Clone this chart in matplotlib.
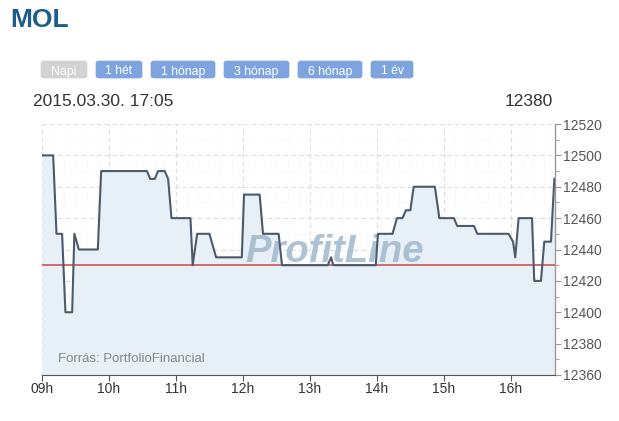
import matplotlib
matplotlib.use("Agg")
import matplotlib.pyplot as plt
from matplotlib.patches import FancyBboxPatch
from matplotlib.ticker import MultipleLocator
import numpy as np

plt.rcParams['font.family'] = ['Liberation Sans', 'DejaVu Sans']

# intraday quotes
times = ["09:00", "09:10", "09:13", "09:18", "09:21", "09:27", "09:29", "09:33",
         "09:50", "09:53", "10:34", "10:37", "10:41", "10:44", "10:50", "10:53",
         "10:56", "11:13", "11:15", "11:19", "11:30", "11:36", "11:59", "12:01",
         "12:15", "12:18", "12:32", "12:35", "13:16", "13:19", "13:21", "13:59",
         "14:01", "14:14", "14:18", "14:23", "14:26", "14:30", "14:33", "14:52",
         "14:56", "15:09", "15:12", "15:27", "15:30", "15:58", "16:02", "16:04",
         "16:07", "16:19", "16:21", "16:27", "16:30", "16:36", "16:39"]
prices = [12500, 12500, 12450, 12450, 12400, 12400, 12450, 12440,
          12440, 12490, 12490, 12485, 12485, 12490, 12490, 12485,
          12460, 12460, 12430, 12450, 12450, 12435, 12435, 12475,
          12475, 12450, 12450, 12430, 12430, 12435, 12430, 12430,
          12450, 12450, 12460, 12460, 12465, 12465, 12480, 12480,
          12460, 12460, 12455, 12455, 12450, 12450, 12445, 12435,
          12460, 12460, 12420, 12420, 12445, 12445, 12485]
prev_close = 12430

hour_ticks = [9, 10, 11, 12, 13, 14, 15, 16]
hour_labels = ["09h", "10h", "11h", "12h", "13h", "14h", "15h", "16h"]
buttons = ["Napi", "1 hét", "1 hónap", "3 hónap", "6 hónap", "1 év"]

ticker = "MOL"
stamp = "2015.03.30. 17:05"
header_value = "12380"
source = "Forrás: PortfolioFinancial"

hours = np.array([int(t[:2]) + int(t[3:]) / 60 for t in times])

W, H = 619, 421
fig = plt.figure(figsize=(W / 100, H / 100), dpi=100)
fig.patch.set_facecolor("white")

# header
fig.text(10 / W, 1 - 20 / H, ticker, fontsize=19, fontweight="bold",
         color="#1b5e8c", va="center", ha="left")

btn_x = [(41, 87), (96, 142), (151, 215), (224, 289), (298, 362), (371, 413)]
for label, (x0, x1) in zip(buttons, btn_x):
    face = "#d2d2d2" if label == "Napi" else "#7ea4df"
    box = FancyBboxPatch((x0 / W, 1 - 78 / H), (x1 - x0) / W, 17 / H,
                         boxstyle="round,pad=0,rounding_size=0.005",
                         transform=fig.transFigure, facecolor=face,
                         edgecolor=face, linewidth=0.5)
    fig.patches.append(box)
    fig.text((x0 + x1) / 2 / W, 1 - 70 / H, label, fontsize=8.8,
             color="white", ha="center", va="center_baseline")

fig.text(33 / W, 1 - 101 / H, stamp, fontsize=12.5, color="#333333",
         ha="left", va="center")
fig.text(553 / W, 1 - 101 / H, header_value, fontsize=12.5, color="#333333",
         ha="right", va="center")

# chart
ax = fig.add_axes([42 / W, 1 - 375 / H, (555 - 42) / W, (375 - 124) / H])
ax.set_facecolor("white")
ax.set_xlim(9, 16.66)
ax.set_ylim(12360, 12520)

ax.fill_between(hours, prices, 12360, color="#e7eff7", zorder=1, linewidth=0)
ax.text(0.57, 0.49, "ProfitLine", transform=ax.transAxes, fontsize=27.5,
        fontweight="bold", fontstyle="italic", color="#9fb8cd", alpha=0.85,
        ha="center", va="center", zorder=2)
ax.axhline(prev_close, color="#d46a6a", linewidth=1.4, zorder=3)
ax.plot(hours, prices, color="#4b5b6b", linewidth=1.5, zorder=4)

ax.yaxis.tick_right()
ax.yaxis.set_major_locator(MultipleLocator(20))
ax.yaxis.set_minor_locator(MultipleLocator(10))
ax.set_xticks(hour_ticks)
ax.set_xticklabels(hour_labels)
ax.xaxis.set_minor_locator(MultipleLocator(1 / 6))

ax.grid(which="major", axis="both", color="#dddddd", linestyle=(0, (4, 3)),
        linewidth=0.8, zorder=0)
ax.grid(which="minor", axis="both", color="#f1f1f1", linestyle=(0, (1, 2)),
        linewidth=0.6, zorder=0)
ax.set_axisbelow(True)

for side in ["top", "left"]:
    ax.spines[side].set_visible(False)
ax.spines["bottom"].set_color("#555555")
ax.spines["right"].set_color("#999999")
ax.spines["right"].set_linewidth(1.0)

ax.tick_params(axis="y", which="major", length=4, color="#999999",
               labelsize=10, labelcolor="#555555", pad=2)
ax.tick_params(axis="y", which="minor", length=3, color="#c08080")
ax.tick_params(axis="x", which="major", length=4, color="#555555",
               labelsize=10, labelcolor="#333333", pad=1)
ax.tick_params(axis="x", which="minor", length=0)

ax.text(58 / W, 1 - 359 / H, source, transform=fig.transFigure, fontsize=9.5,
        color="#888888", ha="left", va="center", zorder=5)

fig.savefig("out.png", dpi=100)
